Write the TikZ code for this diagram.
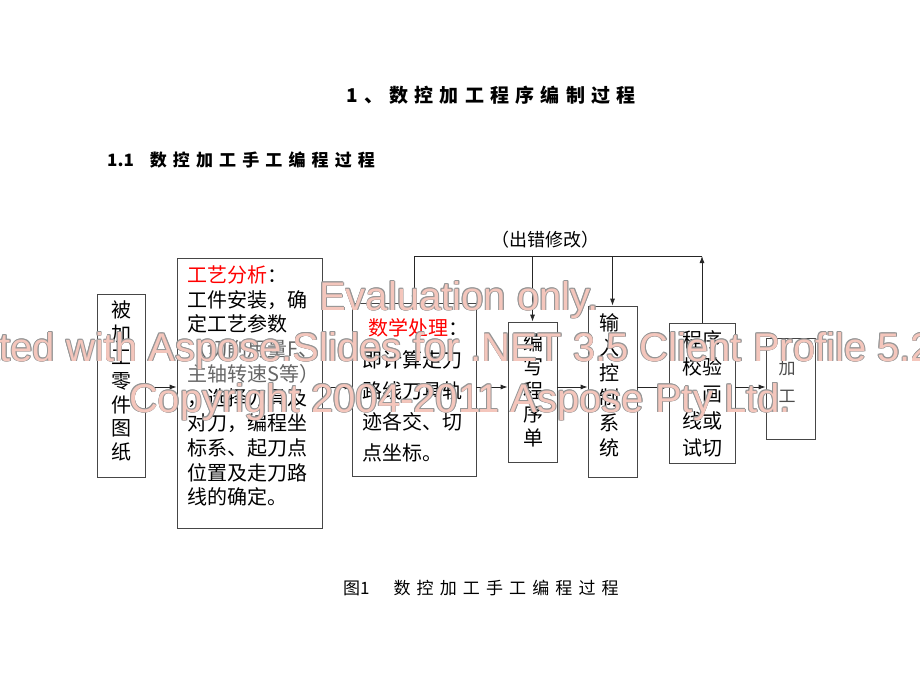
\documentclass[tikz,border=0pt]{standalone}
\usepackage{fontspec}
\setmainfont{Liberation Serif}
\newfontfamily\cjk{Noto Sans CJK SC}
\newfontfamily\wmfont{Liberation Sans}
\usetikzlibrary{arrows.meta}
\definecolor{wmfill}{RGB}{244,198,188}
\definecolor{wmedge}{RGB}{150,150,150}
\definecolor{boxline}{RGB}{70,70,70}
\newcommand\wmtext[4]{%
  \foreach \dx/\dy in {-0.9/0,0.9/0,0/-0.9,0/0.9,-0.6/-0.6,0.6/0.6,-0.6/0.6,0.6/-0.6}
    \node[wmbase, text=wmedge] at (#2+\dx,#3+\dy) {#4};
  \node[wmbase, text=wmfill] (#1) at (#2,#3) {#4};
}
\begin{document}
\begin{tikzpicture}[x=1pt,y=-1pt,
  box/.style={draw=boxline, line width=0.8pt, rectangle, inner sep=0},
  arr/.style={-{Latex[length=7pt,width=5pt]}, line width=0.8pt, black!85},
  ln/.style={line width=0.8pt, black!85},
  txt/.style={inner sep=0, font=\cjk\fontsize{20}{24}\selectfont},
  wmbase/.style={anchor=base, inner sep=0, font=\wmfont\fontsize{40}{40}\selectfont}
]
\fill[white] (0,0) rectangle (920,690);
\useasboundingbox (0,0) rectangle (920,690);

% titles
\node[inner sep=0, anchor=west, font=\cjk\bfseries\fontsize{19}{19}\selectfont] (title) at (346,95)
  {\addfontfeatures{LetterSpace=33}1、数控加工程序编制过程};
\node[inner sep=0, anchor=west, font=\cjk\bfseries\fontsize{17}{17}\selectfont] (sub) at (107,160)
  {1.1\hspace{16pt}{\addfontfeatures{LetterSpace=36}数控加工手工编程过程}};
\node[inner sep=0, anchor=west, font=\cjk\fontsize{17}{17}\selectfont] (cap) at (343,588)
  {图1\hspace{24pt}{\addfontfeatures{LetterSpace=36}数控加工手工编程过程}};

% boxes
\node[box, minimum width=48pt, minimum height=183pt] (b1) at (121,385.5) {};
\node[box, minimum width=145pt, minimum height=270pt] (b2) at (249.5,393) {};
\node[box, minimum width=124pt, minimum height=173pt] (b3) at (414,389.5) {};
\node[box, minimum width=49pt, minimum height=140pt] (b4) at (532.5,392) {};
\node[box, minimum width=49pt, minimum height=171pt] (b5) at (612.5,391.5) {};
\node[box, minimum width=66pt, minimum height=140pt] (b6) at (702,393) {};
\node[box, minimum width=49pt, minimum height=101pt] (b7) at (790.5,388.5) {};

% box texts
\node[txt, align=center, font=\cjk\fontsize{20}{23.7}\selectfont] (t1) at (121,381)
  {被\\加\\工\\零\\件\\图\\纸};
\node[txt, align=left, anchor=west, font=\cjk\fontsize{20}{24.7}\selectfont] (t2) at (187,386)
  {{\color{red}工艺分析}：\\
   工件安装，确\\
   定工艺参数\\
   {\color{black!60}（切削用量F、}\\
   {\color{black!60}主轴转速S等）}\\
   ，选择刀具及\\
   对刀，编程坐\\
   标系、起刀点\\
   位置及走刀路\\
   线的确定。};
\node[txt, align=left, anchor=west, font=\cjk\fontsize{20}{31.2}\selectfont] (t3) at (362,390.5)
  {\hspace{6pt}{\color{red}数学处理}：\\
   即计算走刀\\
   路线刀具轨\\
   迹各交、切\\
   点坐标。};
\node[txt, align=center, font=\cjk\fontsize{20}{23.7}\selectfont] (t4) at (533,390.5)
  {编\\写\\程\\序\\单};
\node[txt, align=center, font=\cjk\fontsize{20}{25}\selectfont] (t5) at (609,385.5)
  {输\\入\\控\\制\\系\\统};
\node[txt, align=center, font=\cjk\fontsize{20}{27}\selectfont] (t6) at (702,394)
  {程序\\校验\\、画\\线或\\试切};
\node[txt, align=center, text=black!70, font=\cjk\fontsize{17}{28}\selectfont] (t7) at (787,381)
  {加\\工};

% connectors
\coordinate (row) at (0,387);
\coordinate (fb) at (0,256);
\draw[arr] (b1.east |- row) -- (b2.west |- row);
\draw[arr] (b2.east |- row) -- (b3.west |- row);
\draw[arr] (b3.east |- row) -- (b4.west |- row);
\draw[arr] (b4.east |- row) -- (b5.west |- row);
\draw[arr] (b5.east |- row) -- (b6.west |- row);
\draw[arr] (b6.east |- row) -- (b7.west |- row);
\draw[arr] (b6.north) -- (b6.north |- fb);
\draw[ln] (b3.north |- fb) -- (b6.north |- fb);
\draw[arr] (b3.north |- fb) -- (b3.north);
\draw[arr] (b4.north |- fb) -- (b4.north);
\draw[arr] (b5.north |- fb) -- (b5.north);
\node[inner sep=0, font=\cjk\fontsize{18}{18}\selectfont] (err) at (545,240) {（出错修改）};

% watermark
\wmtext{w1}{459}{310}{Evaluation only.}
\wmtext{w2}{462}{361}{Created with Aspose.Slides for .NET 3.5 Client Profile 5.2.0.0.}
\wmtext{w3}{460}{412}{Copyright 2004-2011 Aspose Pty Ltd.}
\end{tikzpicture}
\end{document}
